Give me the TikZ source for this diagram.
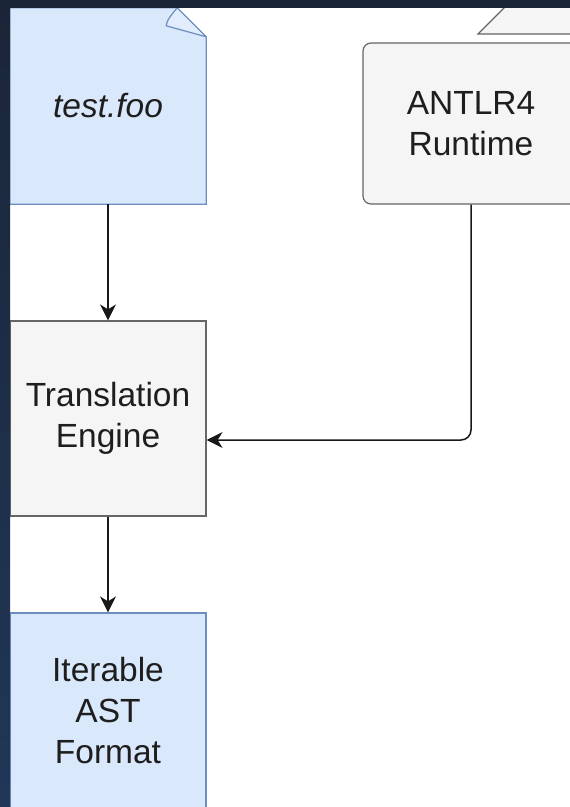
\documentclass[tikz,border=0pt]{standalone}
\usepackage{fontspec}
\setmainfont{Liberation Sans}
\usetikzlibrary{arrows.meta}

\definecolor{bluefill}{HTML}{DAE8FC}
\definecolor{bluestroke}{HTML}{6C8EBF}
\definecolor{greyfill}{HTML}{F5F5F5}
\definecolor{greystroke}{HTML}{666666}
\definecolor{inktext}{HTML}{1E1E1E}
\definecolor{frametop}{HTML}{1B2538}
\definecolor{framebot}{HTML}{203757}

\tikzset{
  boxtext/.style={text=inktext, align=center, inner sep=0pt,
    font=\fontsize{33.5}{41}\selectfont},
  bluebox/.style={boxtext, fill=bluefill, draw=bluestroke, line width=1.2pt},
  greybox/.style={boxtext, fill=greyfill, draw=greystroke, line width=1.2pt},
  flow/.style={draw=black!90, line width=1.5pt,
    -{Stealth[length=16pt,width=16pt,inset=5pt]}},
}

\begin{document}
\begin{tikzpicture}[x=1pt,y=-1pt]
  \useasboundingbox (0,0) rectangle (570,807);
  \clip (0,0) rectangle (570,807);
  \fill[white] (0,0) rectangle (570,807);

  % source file: a page with a curled corner
  \node[boxtext, minimum width=196pt, minimum height=196pt] (src) at (108,106) {};
  \filldraw[fill=bluefill, draw=bluestroke, line width=1.2pt]
    (src.north west) -- ([xshift=-29pt]src.north east)
    -- ([yshift=-29pt]src.north east) -- (src.south east)
    -- (src.south west) -- cycle;
  \filldraw[fill=bluefill!80!white, draw=bluestroke, line width=1.2pt,
    line join=round]
    ([xshift=-29pt]src.north east)
    .. controls ([xshift=-34pt,yshift=-6pt]src.north east)
    and ([xshift=-40pt,yshift=-13pt]src.north east)
    .. ([xshift=-40pt,yshift=-18pt]src.north east)
    -- ([yshift=-29pt]src.north east) -- cycle;
  \node[boxtext] at (src.center) {\itshape test.foo};

  % runtime library: folder with a tab
  \filldraw[fill=greyfill, draw=greystroke, line width=1.2pt]
    (478,34) -- (513,-1) -- (600,-1) -- (600,34) -- cycle;
  \node[greybox, rounded corners=8pt, minimum width=216pt,
    minimum height=161pt] (rt) at (471,123.5) {ANTLR4\\Runtime};

  % translation engine
  \node[greybox, minimum width=196pt, minimum height=195pt]
    (eng) at (108,418.5) {Translation\\Engine};

  % output
  \node[bluebox, minimum width=196pt, minimum height=196pt]
    (out) at (108,711) {Iterable\\AST\\Format};

  % connectors
  \coordinate (bend) at (471,440);
  \draw[flow] (src) -- (eng);
  \draw[flow] (eng) -- (out);
  \draw[flow, rounded corners=10pt] (rt.south) |- (eng.east |- bend);

  % dark window frame along the top and left edges
  \fill[frametop] (0,0) rectangle (570,8);
  \shade[top color=frametop, bottom color=framebot] (0,0) rectangle (10,807);
\end{tikzpicture}
\end{document}
